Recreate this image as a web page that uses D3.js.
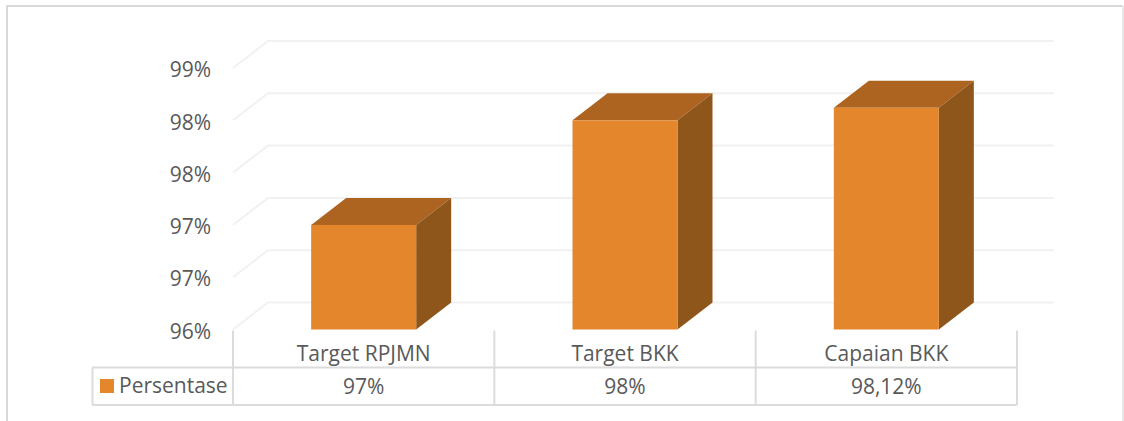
<!DOCTYPE html>
<meta charset="utf-8">
<style>
	html, body { margin: 0; padding: 0; background: #fff; }
	svg { display: block; }
	text { font-family: "Open Sans", sans-serif; fill: #595959; }
	.yAxis .domain, .yAxis line { display: none; }
	.yAxis text { font-size: 21px; }
</style>
<div id="chartBx"></div>
<script src="https://cdn.jsdelivr.net/npm/d3@7"></script>
<script>
	var categories = ["Target RPJMN", "Target BKK", "Capaian BKK"];
	var seriesName = "Persentase";
	var seriesValues = [97, 98, 98.12];
	var tableLabels = ["97%", "98%", "98,12%"];
	var yTicks = [96, 96.5, 97, 97.5, 98, 98.5];
	var yTickLabels = ["96%", "97%", "97%", "98%", "98%", "99%"];

	makeBarChart("chartBx", 1124, 421);

	function makeBarChart(div_id, pWidth, pHeight) {
		var svg = d3.select("#" + div_id).append("svg")
			.attr("width", pWidth)
			.attr("height", pHeight);

		// 3d offset of the back wall
		var depth = {x: 35, y: -27};
		var plotLeft = 233, plotRight = 1017, plotBottom = 329.5;
		var tableTop = 367.5, tableBottom = 405, tableLeft = 92.5;

		var x0 = d3.scaleBand().domain(categories).range([plotLeft, plotRight]).paddingInner(0).paddingOuter(0);
		var y0 = d3.scaleLinear().domain([96, 98.5]).range([plotBottom, 68]);

		var barWidth = 105;
		var barX = function(d) { return x0(d) + (x0.bandwidth() - barWidth) / 2; };

		// outer frame
		svg.append("path")
			.attr("d", "M7,421V6H1123")
			.attr("fill", "none").attr("stroke", "#d9d9d9").attr("stroke-width", 2);
		svg.append("path")
			.attr("d", "M1123,6V421")
			.attr("fill", "none").attr("stroke", "#e8e8e8").attr("stroke-width", 2);

		// gridlines, floor side wall + back wall
		var grid = svg.append("g").attr("class", "grid");
		grid.selectAll("path").data(yTicks).enter().append("path")
			.attr("d", function(d) {
				return "M" + plotLeft + "," + y0(d) + "L" + (plotLeft + depth.x) + "," + (y0(d) + depth.y) + "H1054";
			})
			.attr("fill", "none").attr("stroke", "#f1f1f1").attr("stroke-width", 2);

		// y axis
		svg.append("g")
			.attr("class", "yAxis")
			.attr("transform", "translate(211,2)")
			.call(d3.axisLeft(y0).tickValues(yTicks).tickSize(0).tickPadding(0)
				.tickFormat(function(d, i) { return yTickLabels[i]; }));

		// bars
		var bars = svg.append("g").attr("class", "barchart").selectAll("g")
			.data(categories).enter().append("g");

		// top face
		bars.append("path")
			.attr("fill", "#ad6421")
			.attr("d", function(d, i) {
				var x = barX(d), y = y0(seriesValues[i]);
				return "M" + x + "," + y + "l" + depth.x + "," + depth.y + "h" + barWidth + "l" + (-depth.x) + "," + (-depth.y) + "Z";
			});
		// side face
		bars.append("path")
			.attr("fill", "#8f561b")
			.attr("d", function(d, i) {
				var x = barX(d) + barWidth, y = y0(seriesValues[i]);
				return "M" + x + "," + y + "l" + depth.x + "," + depth.y + "V" + (plotBottom + depth.y) + "L" + x + "," + plotBottom + "Z";
			});
		// front face
		bars.append("rect")
			.attr("fill", "#e3862c")
			.attr("x", barX)
			.attr("y", function(d, i) { return y0(seriesValues[i]); })
			.attr("width", barWidth)
			.attr("height", function(d, i) { return plotBottom - y0(seriesValues[i]); });

		// data table
		var table = svg.append("g").attr("class", "dataTable")
			.attr("fill", "none").attr("stroke", "#dcdcdc").attr("stroke-width", 2);
		table.append("path").attr("d", "M" + tableLeft + "," + tableTop + "H" + plotRight + "M" + tableLeft + "," + tableBottom + "H" + plotRight + "M" + tableLeft + "," + tableTop + "V" + tableBottom);
		var cellEdges = [plotLeft].concat(categories.map(function(d) { return x0(d) + x0.bandwidth(); }));
		table.selectAll("line").data(cellEdges).enter().append("line")
			.attr("x1", function(d) { return d; }).attr("x2", function(d) { return d; })
			.attr("y1", plotBottom + 1).attr("y2", tableBottom);

		svg.append("g").selectAll("text").data(categories).enter().append("text")
			.attr("x", function(d) { return x0(d) + x0.bandwidth() / 2; })
			.attr("y", 361)
			.attr("text-anchor", "middle")
			.attr("font-size", 21)
			.text(function(d) { return d; });

		svg.append("g").selectAll("text").data(tableLabels).enter().append("text")
			.attr("x", function(d, i) { return x0(categories[i]) + x0.bandwidth() / 2; })
			.attr("y", 394)
			.attr("text-anchor", "middle")
			.attr("font-size", 21)
			.text(function(d) { return d; });

		// legend key
		svg.append("rect").attr("x", 100).attr("y", 379).attr("width", 14).attr("height", 14).attr("fill", "#e3862c");
		svg.append("text").attr("x", 119).attr("y", 393).attr("font-size", 21).text(seriesName);
	}
</script>
